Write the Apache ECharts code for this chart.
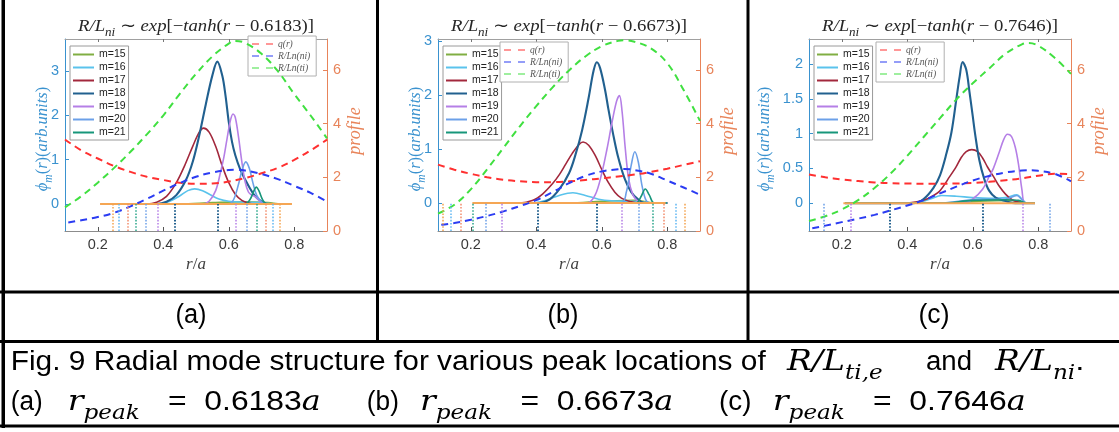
<!DOCTYPE html>
<html>
<head>
<meta charset="utf-8">
<script src="https://cdn.jsdelivr.net/npm/echarts@6/dist/echarts.min.js"></script>
<style>
  html, body { margin: 0; padding: 0; background: #fff; }
  #c { width: 1119px; height: 432px; }
</style>
</head>
<body>
<div id="c"></div>
<script>
// ---------------- values ----------------
const X_TICKS = [0.2, 0.4, 0.6, 0.8];
const RIGHT_TICKS = [0, 2, 4, 6];
const LEFT_TICKS_A = [0, 1, 2, 3];
const LEFT_TICKS_B = [0, 1, 2, 3];
const LEFT_TICKS_C = [0, 0.5, 1, 1.5, 2];
const MODE_NAMES = ['m=15', 'm=16', 'm=17', 'm=18', 'm=19', 'm=20', 'm=21'];
const PROFILE_NAMES = ['q(r)', 'R/Ln(ni)', 'R/Ln(ti)'];
const PEAK_R = ['0.6183', '0.6673', '0.7646'];
const PANEL_TAGS = ['(a)', '(b)', '(c)'];

// panel (a): mode amplitudes phi_m(r)
const A_M15 = [[0.21,0],[0.45,0],[0.55,0.03],[0.65,0.05],[0.72,0.03],[0.76,0],[0.79,0]];
const A_M16 = [[0.21,0],[0.39,0],[0.42,0.06],[0.45,0.18],[0.475,0.3],[0.496,0.34],[0.52,0.3],[0.545,0.2],[0.57,0.11],[0.60,0.06],[0.65,0.04],[0.70,0.03],[0.74,0],[0.79,0]];
const A_M17 = [[0.21,0],[0.35,0],[0.38,0.04],[0.41,0.17],[0.44,0.48],[0.465,0.86],[0.49,1.3],[0.51,1.62],[0.523,1.71],[0.54,1.62],[0.56,1.3],[0.58,0.86],[0.60,0.48],[0.62,0.22],[0.64,0.08],[0.66,0.02],[0.68,0],[0.79,0]];
const A_M18 = [[0.21,0],[0.38,0],[0.41,0.05],[0.44,0.2],[0.47,0.55],[0.49,0.95],[0.51,1.55],[0.53,2.25],[0.55,2.9],[0.565,3.21],[0.58,2.9],[0.59,2.45],[0.60,1.85],[0.61,1.4],[0.62,1.1],[0.635,0.78],[0.65,0.55],[0.665,0.35],[0.68,0.18],[0.70,0.06],[0.72,0],[0.79,0]];
const A_M19 = [[0.21,0],[0.52,0],[0.54,0.06],[0.56,0.3],[0.575,0.72],[0.585,1.05],[0.595,1.48],[0.605,1.88],[0.613,2.03],[0.62,1.95],[0.63,1.5],[0.64,0.95],[0.65,0.5],[0.66,0.27],[0.67,0.2],[0.68,0.17],[0.69,0.1],[0.70,0.03],[0.71,0],[0.79,0]];
const A_M20 = [[0.21,0],[0.60,0],[0.615,0.1],[0.63,0.45],[0.64,0.75],[0.652,0.95],[0.663,0.8],[0.674,0.47],[0.685,0.2],[0.70,0.05],[0.715,0],[0.79,0]];
const A_M21 = [[0.21,0],[0.65,0],[0.665,0.1],[0.677,0.3],[0.684,0.38],[0.692,0.3],[0.703,0.1],[0.715,0],[0.79,0]];
const A_BASE = [[0.207,0],[0.793,0]];
// rational surfaces: [m, r]
const A_SURF = [[24,0.246],[23,0.264],[22,0.291],[21,0.315],[20,0.346],[19,0.383],[18,0.436],[18,0.567],[19,0.621],[20,0.656],[21,0.684],[22,0.712],[23,0.735],[24,0.756]];
// panel (a): profiles
const A_Q  = [[0.1,3.41],[0.15,3.0],[0.2,2.7],[0.25,2.42],[0.3,2.2],[0.35,2.02],[0.4,1.9],[0.45,1.8],[0.5,1.76],[0.55,1.77],[0.6,1.84],[0.65,1.97],[0.7,2.15],[0.75,2.35],[0.8,2.65],[0.85,3.0],[0.9,3.4]];
const A_NI = [[0.11,0.32],[0.15,0.4],[0.2,0.52],[0.25,0.68],[0.3,0.92],[0.35,1.2],[0.4,1.5],[0.45,1.78],[0.5,2.02],[0.55,2.18],[0.6,2.27],[0.62,2.28],[0.65,2.25],[0.7,2.12],[0.75,1.93],[0.8,1.68],[0.85,1.42],[0.9,1.1]];
const A_TI = [[0.1,0.88],[0.15,1.3],[0.2,1.8],[0.25,2.35],[0.3,2.95],[0.35,3.6],[0.4,4.3],[0.45,5.1],[0.5,5.85],[0.55,6.5],[0.6,6.98],[0.62,7.08],[0.65,7.0],[0.7,6.6],[0.75,5.95],[0.8,5.1],[0.85,4.3],[0.9,3.45]];

// panel (b)
const B_M15 = [[0.21,0],[0.5,0],[0.6,0.03],[0.7,0.05],[0.76,0],[0.8,0]];
const B_M16 = [[0.21,0],[0.39,0],[0.43,0.05],[0.47,0.14],[0.512,0.19],[0.55,0.14],[0.59,0.07],[0.63,0.04],[0.70,0.03],[0.75,0],[0.8,0]];
const B_M17 = [[0.21,0],[0.35,0],[0.39,0.05],[0.42,0.17],[0.45,0.36],[0.47,0.52],[0.49,0.72],[0.51,0.92],[0.53,1.08],[0.543,1.13],[0.56,1.07],[0.58,0.88],[0.60,0.62],[0.62,0.38],[0.64,0.2],[0.66,0.09],[0.69,0.02],[0.71,0],[0.8,0]];
const B_M18 = [[0.21,0],[0.41,0],[0.44,0.06],[0.47,0.25],[0.50,0.55],[0.52,0.9],[0.54,1.35],[0.56,1.95],[0.575,2.45],[0.585,2.61],[0.595,2.5],[0.61,2.1],[0.62,1.75],[0.634,1.3],[0.65,0.85],[0.67,0.45],[0.69,0.2],[0.71,0.07],[0.73,0],[0.8,0]];
const B_M19 = [[0.21,0],[0.555,0],[0.58,0.15],[0.60,0.55],[0.616,1.0],[0.63,1.45],[0.645,1.88],[0.654,1.99],[0.662,1.7],[0.672,1.0],[0.682,0.45],[0.695,0.15],[0.71,0.03],[0.72,0],[0.8,0]];
const B_M20 = [[0.21,0],[0.66,0],[0.675,0.2],[0.69,0.7],[0.701,0.95],[0.712,0.75],[0.722,0.35],[0.733,0.08],[0.745,0],[0.8,0]];
const B_M21 = [[0.21,0],[0.705,0],[0.72,0.12],[0.733,0.26],[0.745,0.15],[0.76,0],[0.8,0]];
const B_BASE = [[0.205,0],[0.795,0]];
const B_SURF = [[24,0.115],[23,0.14],[22,0.17],[21,0.205],[20,0.245],[19,0.295],[18,0.405],[18,0.585],[19,0.66],[20,0.713],[21,0.755],[22,0.79],[23,0.826],[24,0.853]];
const B_Q  = [[0.1,2.47],[0.15,2.28],[0.2,2.13],[0.25,2.0],[0.3,1.91],[0.35,1.85],[0.4,1.82],[0.45,1.82],[0.5,1.85],[0.55,1.9],[0.6,1.96],[0.65,2.03],[0.7,2.1],[0.75,2.2],[0.8,2.32],[0.85,2.46],[0.9,2.6]];
const B_NI = [[0.11,0.23],[0.15,0.3],[0.2,0.42],[0.25,0.56],[0.3,0.73],[0.35,0.93],[0.4,1.15],[0.45,1.45],[0.5,1.78],[0.55,2.05],[0.6,2.22],[0.65,2.3],[0.67,2.31],[0.7,2.27],[0.75,2.13],[0.8,1.88],[0.85,1.62],[0.9,1.35]];
const B_TI = [[0.1,0.65],[0.15,0.98],[0.2,1.55],[0.25,2.3],[0.3,3.1],[0.35,3.9],[0.4,4.65],[0.45,5.35],[0.5,5.98],[0.55,6.5],[0.6,6.88],[0.65,7.08],[0.67,7.1],[0.7,7.05],[0.75,6.8],[0.8,6.25],[0.85,5.25],[0.9,4.1]];

// panel (c)
const C_M15 = [[0.21,0],[0.5,0],[0.62,0.03],[0.72,0.04],[0.765,0],[0.79,0]];
const C_M16 = [[0.21,0],[0.42,0],[0.47,0.06],[0.505,0.11],[0.55,0.1],[0.6,0.08],[0.65,0.07],[0.7,0.08],[0.735,0.12],[0.75,0.06],[0.765,0],[0.79,0]];
const C_M17 = [[0.21,0],[0.39,0],[0.43,0.02],[0.46,0.06],[0.48,0.11],[0.50,0.18],[0.53,0.385],[0.55,0.53],[0.564,0.65],[0.58,0.74],[0.597,0.77],[0.615,0.74],[0.63,0.65],[0.645,0.52],[0.663,0.385],[0.68,0.25],[0.70,0.13],[0.72,0.05],[0.74,0.015],[0.76,0],[0.79,0]];
const C_M18 = [[0.21,0],[0.42,0],[0.45,0.06],[0.48,0.22],[0.50,0.4],[0.52,0.72],[0.535,1.02],[0.55,1.5],[0.56,1.82],[0.569,2.03],[0.58,1.92],[0.59,1.6],[0.60,1.25],[0.607,1.0],[0.62,0.62],[0.635,0.35],[0.65,0.18],[0.67,0.08],[0.70,0.03],[0.73,0],[0.79,0]];
const C_M19 = [[0.21,0],[0.57,0],[0.60,0.06],[0.63,0.2],[0.65,0.38],[0.663,0.5],[0.68,0.72],[0.695,0.92],[0.706,0.99],[0.718,0.96],[0.73,0.8],[0.74,0.55],[0.75,0.2],[0.76,0],[0.79,0]];
const C_M20 = [[0.21,0],[0.5,0],[0.6,0.05],[0.7,0.06],[0.735,0.11],[0.75,0.05],[0.765,0],[0.79,0]];
const C_M21 = [[0.21,0],[0.5,0],[0.6,0.04],[0.7,0.05],[0.74,0.04],[0.765,0],[0.79,0]];
const C_BASE = [[0.205,0],[0.79,0]];
const C_SURF = [[20,0.145],[19,0.227],[18,0.347],[18,0.63],[19,0.753],[20,0.836]];
const C_Q  = [[0.1,2.1],[0.15,2.0],[0.2,1.92],[0.25,1.86],[0.3,1.81],[0.35,1.78],[0.4,1.77],[0.45,1.76],[0.5,1.76],[0.55,1.77],[0.6,1.79],[0.65,1.83],[0.7,1.89],[0.75,1.96],[0.8,2.06],[0.85,2.13],[0.9,2.12]];
const C_NI = [[0.11,0.1],[0.15,0.2],[0.2,0.33],[0.25,0.46],[0.3,0.6],[0.35,0.77],[0.4,0.95],[0.45,1.15],[0.5,1.4],[0.55,1.65],[0.6,1.88],[0.65,2.05],[0.7,2.18],[0.75,2.25],[0.78,2.26],[0.8,2.24],[0.85,2.13],[0.9,1.85]];
const C_TI = [[0.1,0.37],[0.15,0.55],[0.2,0.8],[0.25,1.15],[0.3,1.6],[0.35,2.15],[0.4,2.8],[0.45,3.5],[0.5,4.2],[0.55,4.9],[0.6,5.5],[0.65,6.05],[0.7,6.6],[0.75,6.95],[0.77,7.0],[0.8,6.9],[0.85,6.45],[0.9,5.85]];

// ---------------- styling / layout ----------------
const MODE_COLORS = ['#80ae42', '#5ac3ec', '#a2283c', '#21608f', '#b57fe6', '#6ca0e8', '#17967a'];
const PROFILE_COLORS = ['#ff3030', '#2b3cf2', '#40e040'];
const SURF_COLORS = {18: '#24628f', 19: '#b57fe6', 20: '#6ca0e8', 21: '#2aa58a', 22: '#f28c6c', 23: '#5fb6f2', 24: '#f4a34e'};
const BASE_COLOR = '#f5a654';
const LEFT_COLOR = '#3a92cf';
const RIGHT_COLOR = '#e8845a';
const SERIF = "'Liberation Serif','Times New Roman',serif";
const SANS = "'Liberation Sans',Arial,sans-serif";
const CAPF = "'Liberation Sans Narrow','Arial Narrow','Liberation Sans',sans-serif";
const CAPM = "'DejaVu Serif','Liberation Serif',serif";

const GT = 39, GW = 262, GH = 192, XMIN = 0.1, XMAX = 0.9, RMAX = 7.15;

const PANELS = [
  { left: 65,  yl: [-0.61, 3.72], lt: LEFT_TICKS_A, modes: [A_M15, A_M16, A_M17, A_M18, A_M19, A_M20, A_M21], base: A_BASE, surf: A_SURF, prof: [A_Q, A_NI, A_TI], leg2: [183, -3], yname: -22 },
  { left: 438, yl: [-0.52, 3.04], lt: LEFT_TICKS_B, modes: [B_M15, B_M16, B_M17, B_M18, B_M19, B_M20, B_M21], base: B_BASE, surf: B_SURF, prof: [B_Q, B_NI, B_TI], leg2: [62, 3], yname: -22 },
  { left: 809, yl: [-0.40, 2.36], lt: LEFT_TICKS_C, modes: [C_M15, C_M16, C_M17, C_M18, C_M19, C_M20, C_M21], base: C_BASE, surf: C_SURF, prof: [C_Q, C_NI, C_TI], leg2: [67, 3], yname: -44 }
];

// ---------------- math-ish text runs ----------------
const mctx = document.createElement('canvas').getContext('2d');
const KINDS = {
  i: s => ({ css: `italic 400 ${s}px ${SERIF}`, px: s, dy: 0 }),
  n: s => ({ css: `normal 400 ${s}px ${SERIF}`, px: s, dy: 0 }),
  s: s => ({ css: `italic 400 ${(s * 0.7).toFixed(2)}px ${SERIF}`, px: s * 0.7, dy: s * 0.28 }),
  t: s => ({ css: `normal 400 ${s}px ${CAPF}`, px: s, dy: 0 }),
  I: s => ({ css: `italic 400 ${s}px ${CAPM}`, px: s, dy: 0 }),
  S: s => ({ css: `italic 400 ${(s * 0.7).toFixed(2)}px ${CAPM}`, px: s * 0.7, dy: s * 0.3 })
};
// parts: [[text, kind], ...]; o: {x, y (visual centre), size, color, anchor, width, maxStretch, rotation}
function run(parts, o) {
  let cx = 0;
  const kids = [];
  parts.forEach(([t, k]) => {
    const f = KINDS[k](o.size);
    mctx.font = f.css;
    const w = mctx.measureText(t).width;
    kids.push({
      type: 'text', x: cx, y: 0.3 * o.size + f.dy - 0.31 * f.px, silent: true,
      style: { text: t, font: f.css, fill: o.color || '#000', align: 'left', textAlign: 'left', verticalAlign: 'middle', textVerticalAlign: 'middle' }
    });
    cx += w;
  });
  const a = o.anchor || 0;
  kids.forEach(c => { c.x -= cx * a; });
  let sx = o.width ? o.width / cx : 1;
  if (o.maxStretch) sx = Math.min(sx, o.maxStretch);
  return { type: 'group', x: o.x, y: o.y, rotation: o.rotation || 0, scaleX: sx, silent: true, children: kids };
}

// ---------------- chart option ----------------
const grid = [], xAxis = [], yAxis = [], series = [], legend = [], graphic = [];
const TICK_FONT = 14.5;

PANELS.forEach((p, k) => {
  const gl = p.left;
  grid.push({ left: gl, top: GT, width: GW, height: GH });

  xAxis.push({
    gridIndex: k, type: 'value', min: XMIN, max: XMAX, position: 'bottom',
    axisLine: { show: true, onZero: false, lineStyle: { color: '#8c8c8c', width: 1 } },
    axisTick: { show: true, inside: true, length: 4, customValues: X_TICKS, lineStyle: { color: '#555' } },
    axisLabel: { show: true, customValues: X_TICKS, color: '#3a3a3a', fontSize: TICK_FONT, fontFamily: SANS, margin: 6 },
    splitLine: { show: false }
  });
  xAxis.push({
    gridIndex: k, type: 'value', min: XMIN, max: XMAX, position: 'top',
    axisLine: { show: true, onZero: false, lineStyle: { color: '#a0a0a0', width: 1 } },
    axisTick: { show: true, inside: true, length: 3, customValues: X_TICKS, lineStyle: { color: '#777' } },
    axisLabel: { show: false }, splitLine: { show: false }
  });
  yAxis.push({
    gridIndex: k, type: 'value', min: p.yl[0], max: p.yl[1], position: 'left',
    axisLine: { show: true, onZero: false, lineStyle: { color: LEFT_COLOR, width: 1 } },
    axisTick: { show: true, inside: true, length: 4, customValues: p.lt, lineStyle: { color: LEFT_COLOR } },
    axisLabel: { show: true, customValues: p.lt, color: LEFT_COLOR, fontSize: TICK_FONT, fontFamily: SANS, margin: 6 },
    splitLine: { show: false }
  });
  yAxis.push({
    gridIndex: k, type: 'value', min: 0, max: RMAX, position: 'right',
    axisLine: { show: true, onZero: false, lineStyle: { color: RIGHT_COLOR, width: 1 } },
    axisTick: { show: true, inside: true, length: 4, customValues: RIGHT_TICKS, lineStyle: { color: RIGHT_COLOR } },
    axisLabel: { show: true, customValues: RIGHT_TICKS, color: RIGHT_COLOR, fontSize: TICK_FONT, fontFamily: SANS, margin: 6 },
    splitLine: { show: false }
  });

  // radial mode structures
  p.modes.forEach((d, i) => {
    series.push({
      type: 'line', name: MODE_NAMES[i], xAxisIndex: 2 * k, yAxisIndex: 2 * k, data: d,
      smooth: 0.35, symbol: 'none', showSymbol: false, silent: true, z: 2,
      color: MODE_COLORS[i], lineStyle: { width: i === 3 ? 2.1 : 1.6, color: MODE_COLORS[i] }
    });
  });

  // zero base line with the rational-surface markers below it
  series.push({
    type: 'line', name: 'base', xAxisIndex: 2 * k, yAxisIndex: 2 * k, data: p.base,
    symbol: 'none', showSymbol: false, silent: true, z: 3,
    color: BASE_COLOR, lineStyle: { width: 2, color: BASE_COLOR },
    markLine: {
      silent: true, symbol: ['none', 'none'], label: { show: false }, animation: false,
      emphasis: { disabled: true },
      data: p.surf.map(([m, r]) => [
        { coord: [r, p.yl[0]], lineStyle: { color: SURF_COLORS[m], width: m === 18 ? 2 : 1.5, type: [1.6, 1.6] } },
        { coord: [r, 0] }
      ])
    }
  });

  // plasma profiles (right axis)
  p.prof.forEach((d, i) => {
    series.push({
      type: 'line', name: PROFILE_NAMES[i], xAxisIndex: 2 * k, yAxisIndex: 2 * k + 1, data: d,
      smooth: 0.4, symbol: 'none', showSymbol: false, silent: true, z: 4,
      color: PROFILE_COLORS[i], lineStyle: { width: 2, type: [7, 5], color: PROFILE_COLORS[i] }
    });
  });

  legend.push({
    data: MODE_NAMES.map(n => ({ name: n, icon: 'rect' })),
    orient: 'vertical', left: gl + 5, top: GT + 7, itemWidth: 21, itemHeight: 2, itemGap: 2,
    padding: [3, 3, 2, 3], backgroundColor: '#fff', borderColor: '#9a9a9a', borderWidth: 1,
    selectedMode: false, itemStyle: { borderWidth: 0 },
    textStyle: { fontSize: 10.5, fontFamily: SANS, color: '#222', lineHeight: 11 }
  });
  legend.push({
    data: PROFILE_NAMES.map(n => ({ name: n, icon: 'path://M0,0H7V1H0Z M14,0H21V1H14Z' })),
    orient: 'vertical', left: gl + p.leg2[0], top: GT + p.leg2[1], itemWidth: 21, itemHeight: 2, itemGap: 2,
    padding: [3, 6, 3, 4], backgroundColor: '#fff', borderColor: '#b0b0b0', borderWidth: 1,
    selectedMode: false, itemStyle: { borderWidth: 0 },
    textStyle: { fontSize: 9.5, fontFamily: SERIF, fontStyle: 'italic', color: '#555', lineHeight: 10 }
  });

  const cxp = gl + GW / 2;
  // panel title
  graphic.push(run([['R/L', 'i'], ['ni', 's'], [' \u223C ', 'n'], ['exp', 'i'], ['[\u2212', 'n'], ['tanh', 'i'], ['(', 'n'], ['r', 'i'], [' \u2212 ' + PEAK_R[k] + ')]', 'n']],
    { x: cxp, y: 27, size: 16.5, color: '#262626', anchor: 0.5, width: 236 }));
  // axis names
  graphic.push(run([['r', 'i'], ['/', 'n'], ['a', 'i']], { x: cxp, y: GT + GH + 34, size: 17, color: '#404040', anchor: 0.5 }));
  graphic.push(run([['\u03D5', 'i'], ['m', 's'], ['(', 'n'], ['r', 'i'], [')(', 'n'], ['arb.units', 'i'], [')', 'n']],
    { x: gl + p.yname, y: GT + 100, size: 16.5, color: LEFT_COLOR, anchor: 0.5, rotation: Math.PI / 2 }));
  graphic.push(run([['profile', 'i']], { x: gl + GW + 28, y: GT + 92, size: 18, color: RIGHT_COLOR, anchor: 0.5, rotation: Math.PI / 2 }));
});

// table rules
const RULES = [
  [1.5, 0, 3.5, 428], [376, 0, 3, 343], [746.5, 0, 3, 343],
  [0, 290.5, 1119, 3], [0, 340, 1119, 3], [0, 424.5, 1119, 3]
];
RULES.forEach(([x, y, w, h]) => graphic.push({ type: 'rect', silent: true, shape: { x, y, width: w, height: h }, style: { fill: '#000' } }));

// sub-figure tags
[191, 563, 934].forEach((x, k) => graphic.push(run([[PANEL_TAGS[k], 't']], { x, y: 316, size: 27, anchor: 0.5, width: 31 })));

// figure caption: each piece starts at x0 and fills toward x1 (glyph stretch limited)
const CAP_T = 27, CAP_M = 28;
const CAPTION = [
  { y: 363, size: CAP_T, x0: 10.7, x1: 765.7, parts: [['Fig. 9 Radial mode structure for various peak locations of', 't']] },
  { y: 363, size: CAP_M, x0: 787, x1: 911.7, parts: [['R/L', 'I'], ['ti,e', 'S']] },
  { y: 363, size: CAP_T, x0: 926, x1: 972, parts: [['and', 't']] },
  { y: 363, size: CAP_M, x0: 995, x1: 1093, parts: [['R/L', 'I'], ['ni', 'S'], ['.', 't']] }
];
const L2_POS = [
  [10.7, 42.7, 67.7, 153, 168, 349],
  [366.8, 398.9, 420, 505.7, 520.5, 701.6],
  [719, 751.4, 772.8, 858.3, 873, 1057.7]
];
L2_POS.forEach(([t0, t1, r0, r1, e0, e1], k) => {
  CAPTION.push({ y: 403, size: CAP_T, x0: t0, x1: t1, parts: [[PANEL_TAGS[k], 't']] });
  CAPTION.push({ y: 403, size: CAP_M, x0: r0, x1: r1, parts: [['r', 'I'], ['peak', 'S']] });
  CAPTION.push({ y: 403, size: CAP_T, x0: e0, x1: e1, parts: [['=  ' + PEAK_R[k], 't'], ['a', 'I']] });
});
CAPTION.forEach(c => graphic.push(run(c.parts, { x: c.x0, y: c.y, size: c.size, width: c.x1 - c.x0, maxStretch: 1.18 })));

const chart = echarts.init(document.getElementById('c'), null, { renderer: 'canvas', width: 1119, height: 432 });
chart.setOption({
  animation: false,
  backgroundColor: '#ffffff',
  grid, xAxis, yAxis, series, legend, graphic
});
</script>
</body>
</html>
